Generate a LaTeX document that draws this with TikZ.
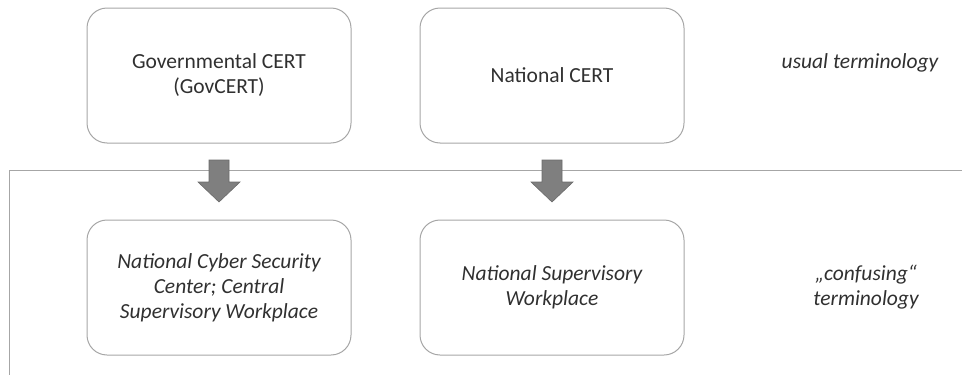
\documentclass[tikz,border=0pt]{standalone}
\usepackage{fontspec}
\setmainfont{Carlito}
\definecolor{txt}{HTML}{303030}
\definecolor{edge}{HTML}{A6A6A6}
\definecolor{arr}{HTML}{7F7F7F}
\definecolor{arredge}{HTML}{6B6B6B}
\tikzset{
  box/.style={draw=edge, line width=1pt, rounded corners=20pt, minimum width=264pt, minimum height=135pt, align=center, text=txt, font=\fontsize{21.5}{25}\selectfont, inner sep=0pt},
  lab/.style={align=center, text=txt, font=\fontsize{21.5}{25}\selectfont\itshape},
  blockarrow/.style={draw=arredge, fill=arr, line width=0.6pt},
  sep/.style={draw=edge, line width=1pt}
}
\newcommand{\downarrowshape}[1]{%
  \draw[blockarrow] ($(#1)+(-10,-21)$) -- ($(#1)+(10,-21)$) -- ($(#1)+(10,1)$) -- ($(#1)+(21,1)$) -- ($(#1)+(0,21)$) -- ($(#1)+(-21,1)$) -- ($(#1)+(-10,1)$) -- cycle;}
\usetikzlibrary{calc}
\begin{document}
\begin{tikzpicture}[x=1pt,y=-1pt]
\useasboundingbox (0,0) rectangle (962,375);
\node[box] (gov) at (219,75.5) {Governmental CERT\\(GovCERT)};
\node[box] (nat) at (552,75.5) {National CERT};
\node[box] (ncsc) at (219,287.5) {\itshape National Cyber Security\\\itshape Center; Central\\\itshape Supervisory Workplace};
\node[box] (nsw) at (552,287.5) {\itshape National Supervisory\\\itshape Workplace};
\node[lab] (usual) at (860,63) {usual terminology};
\node[lab] (conf) at (866,287) {„confusing“\\terminology};
\coordinate (lineL) at (9,170);
\coordinate (lineR) at (962,170);
\coordinate (lineB) at (9,375);
\draw[sep] (lineR) -- (lineL) -- (lineB);
\coordinate (a1) at (219,181);
\coordinate (a2) at (552,181);
\downarrowshape{a1}
\downarrowshape{a2}
\end{tikzpicture}
\end{document}
